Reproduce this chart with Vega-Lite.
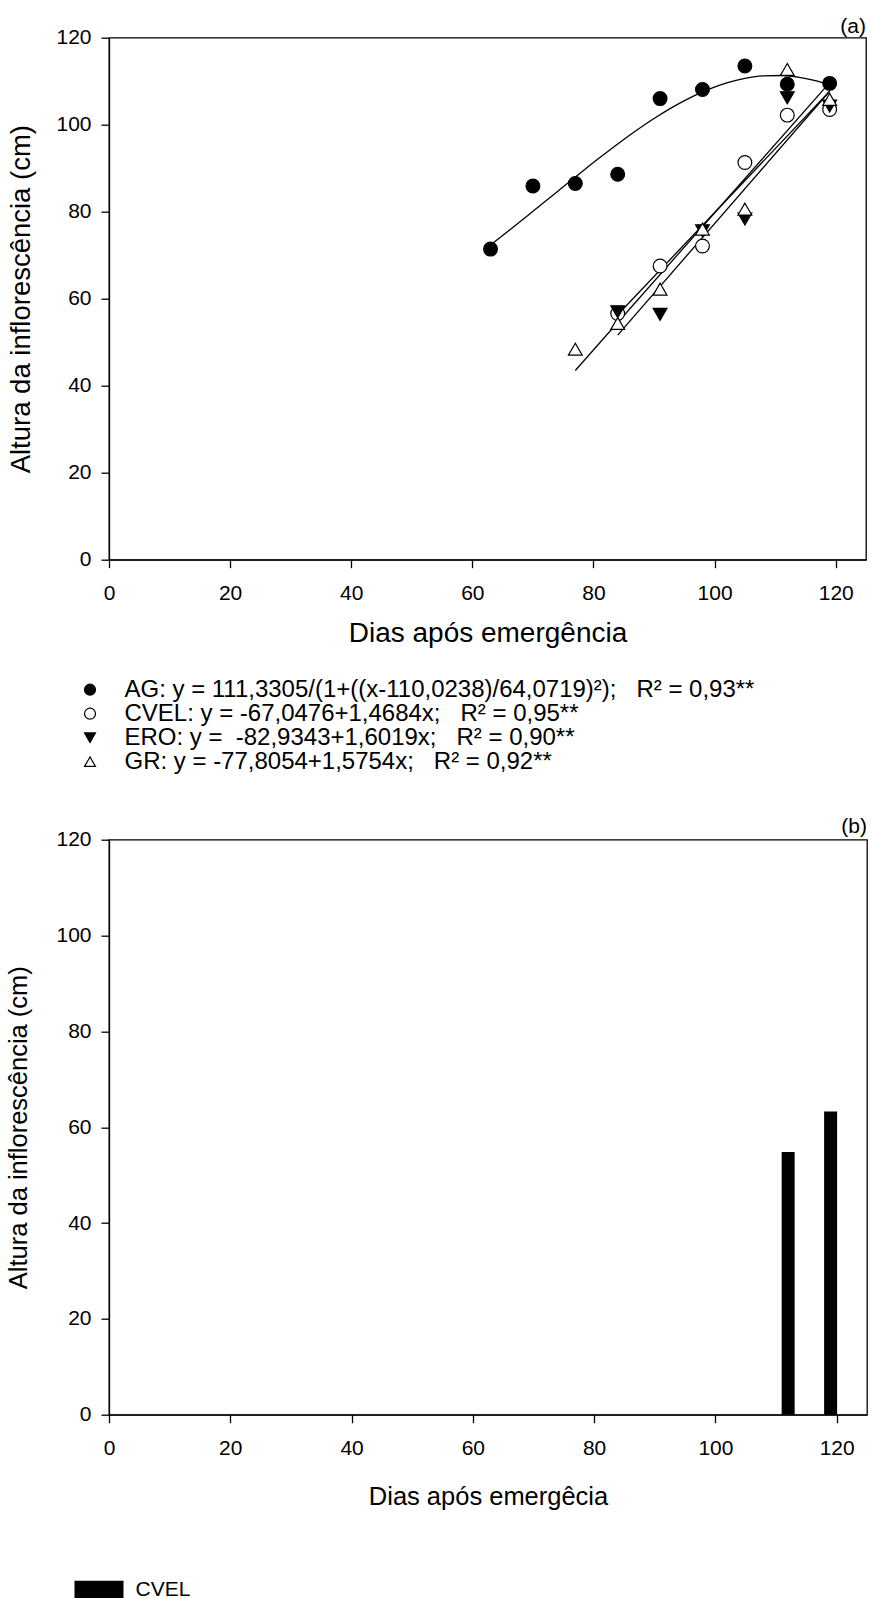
{
  "$schema": "https://vega.github.io/schema/vega-lite/v6.json",
  "padding": {"left": 6, "top": 14.7, "right": 0, "bottom": 0},
  "autosize": {"type": "pad"},
  "background": "white",
  "config": {
    "font": "Liberation Sans",
    "view": {"stroke": "black", "strokeWidth": 1.3},
    "axis": {
      "grid": false,
      "domainColor": "black",
      "domainWidth": 1.3,
      "tickColor": "black",
      "tickSize": 8,
      "tickWidth": 1.3,
      "labelColor": "black",
      "labelFont": "Liberation Sans",
      "labelFontSize": 21,
      "titleColor": "black",
      "titleFont": "Liberation Sans",
      "titleFontSize": 25.5,
      "titleFontWeight": "normal"
    },
    "axisX": {"labelPadding": 15, "titlePadding": 19, "labelFlush": false},
    "axisY": {"labelPadding": 10, "titlePadding": 19},
    "title": {"font": "Liberation Sans", "fontSize": 21, "fontWeight": "normal", "color": "black", "anchor": "end"},
    "legend": {
      "labelFont": "Liberation Sans",
      "labelColor": "black",
      "padding": 0,
      "titlePadding": 0,
      "symbolStrokeWidth": 1.2
    }
  },
  "datasets": {
    "obs": [
      {"serie": "AG", "dias": 63, "altura": 71.4},
      {"serie": "AG", "dias": 70, "altura": 85.9},
      {"serie": "AG", "dias": 77, "altura": 86.5},
      {"serie": "AG", "dias": 84, "altura": 88.6},
      {"serie": "AG", "dias": 91, "altura": 106.0},
      {"serie": "AG", "dias": 98, "altura": 108.1},
      {"serie": "AG", "dias": 105, "altura": 113.5},
      {"serie": "AG", "dias": 112, "altura": 109.3},
      {"serie": "AG", "dias": 119, "altura": 109.5},
      {"serie": "CVEL", "dias": 84, "altura": 56.6},
      {"serie": "CVEL", "dias": 91, "altura": 67.5},
      {"serie": "CVEL", "dias": 98, "altura": 72.1},
      {"serie": "CVEL", "dias": 105, "altura": 91.3},
      {"serie": "CVEL", "dias": 112, "altura": 102.2},
      {"serie": "CVEL", "dias": 119, "altura": 103.5},
      {"serie": "ERO", "dias": 84, "altura": 57.0},
      {"serie": "ERO", "dias": 91, "altura": 56.4},
      {"serie": "ERO", "dias": 98, "altura": 75.6},
      {"serie": "ERO", "dias": 105, "altura": 78.3},
      {"serie": "ERO", "dias": 112, "altura": 106.2},
      {"serie": "ERO", "dias": 119, "altura": 104.3},
      {"serie": "GR", "dias": 77, "altura": 48.4},
      {"serie": "GR", "dias": 84, "altura": 54.3},
      {"serie": "GR", "dias": 91, "altura": 62.2},
      {"serie": "GR", "dias": 98, "altura": 76.0},
      {"serie": "GR", "dias": 105, "altura": 80.6},
      {"serie": "GR", "dias": 112, "altura": 112.7},
      {"serie": "GR", "dias": 119, "altura": 105.8}
    ],
    "ajuste": [
      {"serie": "AG", "dias": 63, "altura": 72.36},
      {"serie": "AG", "dias": 66, "altura": 75.63},
      {"serie": "AG", "dias": 69, "altura": 78.96},
      {"serie": "AG", "dias": 72, "altura": 82.33},
      {"serie": "AG", "dias": 75, "altura": 85.72},
      {"serie": "AG", "dias": 78, "altura": 89.08},
      {"serie": "AG", "dias": 81, "altura": 92.38},
      {"serie": "AG", "dias": 84, "altura": 95.57},
      {"serie": "AG", "dias": 87, "altura": 98.60},
      {"serie": "AG", "dias": 90, "altura": 101.43},
      {"serie": "AG", "dias": 93, "altura": 103.99},
      {"serie": "AG", "dias": 96, "altura": 106.24},
      {"serie": "AG", "dias": 99, "altura": 108.13},
      {"serie": "AG", "dias": 102, "altura": 109.61},
      {"serie": "AG", "dias": 105, "altura": 110.65},
      {"serie": "AG", "dias": 108, "altura": 111.22},
      {"serie": "AG", "dias": 111, "altura": 111.31},
      {"serie": "AG", "dias": 114, "altura": 110.90},
      {"serie": "AG", "dias": 117, "altura": 110.03},
      {"serie": "AG", "dias": 119, "altura": 109.19},
      {"serie": "CVEL", "dias": 84, "altura": 56.30},
      {"serie": "CVEL", "dias": 119, "altura": 107.69},
      {"serie": "ERO", "dias": 84, "altura": 51.63},
      {"serie": "ERO", "dias": 119, "altura": 107.69},
      {"serie": "GR", "dias": 77, "altura": 43.50},
      {"serie": "GR", "dias": 119, "altura": 109.67}
    ],
    "barras": [
      {"tratamento": "CVEL", "dias": 112, "altura": 54.8},
      {"tratamento": "CVEL", "dias": 119, "altura": 63.3}
    ]
  },
  "spacing": 40,
  "align": "none",
  "resolve": {
    "scale": {"x": "independent", "y": "independent", "fill": "independent", "shape": "independent", "stroke": "independent"},
    "legend": {"fill": "independent", "shape": "independent", "stroke": "independent"}
  },
  "vconcat": [
    {
      "width": 757,
      "height": 522,
      "title": {"text": "(a)", "offset": -10},
      "layer": [
        {
          "data": {"name": "ajuste"},
          "mark": {"type": "line", "color": "black", "strokeWidth": 1.3, "interpolate": "monotone"},
          "encoding": {
            "x": {"field": "dias", "type": "quantitative", "scale": {"domain": [0, 125], "nice": false},
                  "axis": {"values": [0, 20, 40, 60, 80, 100, 120], "title": "Dias após emergência", "titleFontSize": 28, "titlePadding": 16}},
            "y": {"field": "altura", "type": "quantitative", "scale": {"domain": [0, 120], "nice": false},
                  "axis": {"values": [0, 20, 40, 60, 80, 100, 120], "title": "Altura da inflorescência (cm)", "titleFontSize": 27.5, "titlePadding": 20.5}},
            "detail": {"field": "serie", "type": "nominal"}
          }
        },
        {
          "data": {"name": "obs"},
          "mark": {"type": "point", "filled": true, "strokeWidth": 1.2, "opacity": 1, "size": 190},
          "encoding": {
            "x": {"field": "dias", "type": "quantitative"},
            "y": {"field": "altura", "type": "quantitative"},
            "shape": {
              "field": "serie", "type": "nominal",
              "scale": {"domain": ["AG", "CVEL", "ERO", "GR"], "range": ["circle", "circle", "triangle-down", "triangle-up"]},
              "legend": {
                "title": null, "orient": "none", "legendX": -31, "legendY": 640,
                "labelFontSize": 24, "labelLimit": 0, "labelOffset": 22.5, "rowPadding": -4.2,
                "symbolSize": 120,
                "labelExpr": "datum.label == 'AG' ? 'AG: y = 111,3305/(1+((x-110,0238)/64,0719)²);\u00a0\u00a0\u00a0R² = 0,93**' : datum.label == 'CVEL' ? 'CVEL: y = -67,0476+1,4684x;\u00a0\u00a0\u00a0R² = 0,95**' : datum.label == 'ERO' ? 'ERO: y =\u00a0\u00a0-82,9343+1,6019x;\u00a0\u00a0\u00a0R² = 0,90**' : 'GR: y = -77,8054+1,5754x;\u00a0\u00a0\u00a0R² = 0,92**'"
              }
            },
            "fill": {
              "field": "serie", "type": "nominal",
              "scale": {"domain": ["AG", "CVEL", "ERO", "GR"], "range": ["black", "white", "black", "white"]},
              "legend": {
                "title": null, "orient": "none", "legendX": -31, "legendY": 640,
                "labelFontSize": 24, "labelLimit": 0, "labelOffset": 22.5, "rowPadding": -4.2,
                "symbolSize": 120,
                "labelExpr": "datum.label == 'AG' ? 'AG: y = 111,3305/(1+((x-110,0238)/64,0719)²);\u00a0\u00a0\u00a0R² = 0,93**' : datum.label == 'CVEL' ? 'CVEL: y = -67,0476+1,4684x;\u00a0\u00a0\u00a0R² = 0,95**' : datum.label == 'ERO' ? 'ERO: y =\u00a0\u00a0-82,9343+1,6019x;\u00a0\u00a0\u00a0R² = 0,90**' : 'GR: y = -77,8054+1,5754x;\u00a0\u00a0\u00a0R² = 0,92**'"
              }
            },
            "stroke": {
              "field": "serie", "type": "nominal",
              "scale": {"domain": ["AG", "CVEL", "ERO", "GR"], "range": ["black", "black", "black", "black"]},
              "legend": {
                "title": null, "orient": "none", "legendX": -31, "legendY": 640,
                "labelFontSize": 24, "labelLimit": 0, "labelOffset": 22.5, "rowPadding": -4.2,
                "symbolSize": 120,
                "labelExpr": "datum.label == 'AG' ? 'AG: y = 111,3305/(1+((x-110,0238)/64,0719)²);\u00a0\u00a0\u00a0R² = 0,93**' : datum.label == 'CVEL' ? 'CVEL: y = -67,0476+1,4684x;\u00a0\u00a0\u00a0R² = 0,95**' : datum.label == 'ERO' ? 'ERO: y =\u00a0\u00a0-82,9343+1,6019x;\u00a0\u00a0\u00a0R² = 0,90**' : 'GR: y = -77,8054+1,5754x;\u00a0\u00a0\u00a0R² = 0,92**'"
              }
            }
          }
        }
      ]
    },
    {
      "width": 758,
      "height": 575,
      "title": {"text": "(b)", "offset": -8.5},
      "data": {"name": "barras"},
      "mark": {"type": "bar", "size": 13, "orient": "vertical"},
      "encoding": {
        "x": {"field": "dias", "type": "quantitative", "scale": {"domain": [0, 125], "nice": false, "padding": 0},
              "axis": {"values": [0, 20, 40, 60, 80, 100, 120], "title": "Dias após emergêcia", "titlePadding": 26}},
        "y": {"field": "altura", "type": "quantitative", "stack": null, "scale": {"domain": [0, 120], "nice": false},
              "axis": {"values": [0, 20, 40, 60, 80, 100, 120], "title": "Altura da inflorescência (cm)", "titlePadding": 24}},
        "fill": {
          "field": "tratamento", "type": "nominal",
          "scale": {"domain": ["CVEL"], "range": ["black"]},
          "legend": {
            "title": null, "orient": "none", "legendX": -34.5, "legendY": 726,
            "labelFontSize": 21, "labelOffset": 12,
            "symbolType": "M-1,-0.39H1V0.39H-1Z", "symbolSize": 2401, "symbolStrokeWidth": 0
          }
        }
      }
    }
  ]
}
